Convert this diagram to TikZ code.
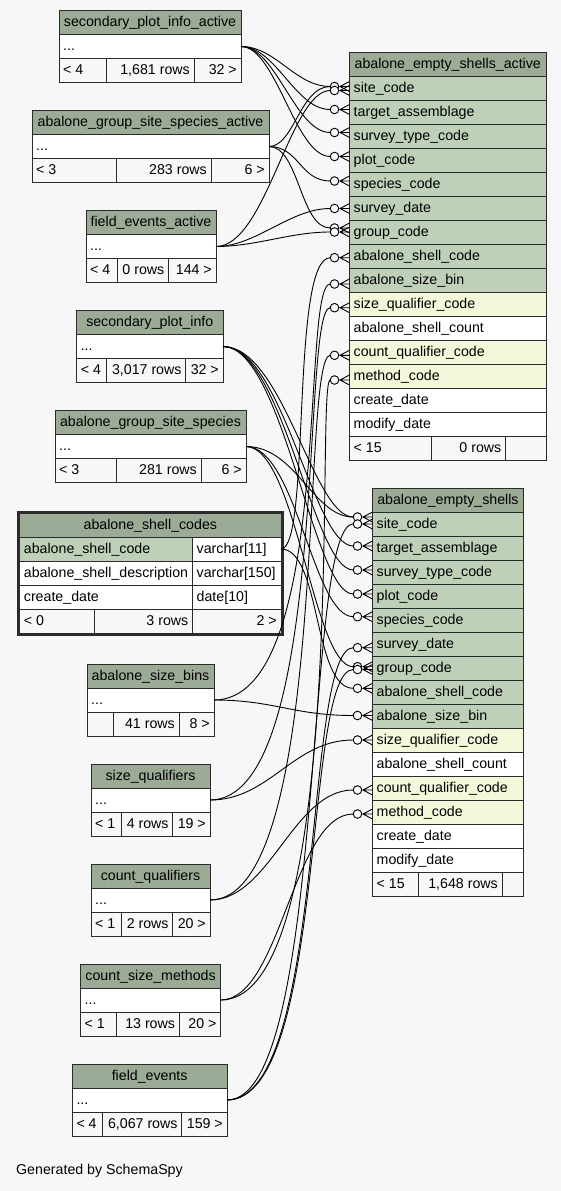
\documentclass[tikz,border=0pt]{standalone}
\usepackage{fontspec}
\setmainfont{Liberation Sans}
\definecolor{bg}{HTML}{F7F7F7}
\definecolor{hdr}{HTML}{9BAB96}
\definecolor{pk}{HTML}{BED1B8}
\definecolor{fkc}{HTML}{F4F7DA}
\definecolor{bd}{HTML}{2B2B2B}
\newcommand{\tf}{\fontsize{14.2}{17}\selectfont}
\newcommand{\tcL}[7]{\node[cell,fill=#6,minimum width={#4-#2},minimum height={#5-#3},anchor=north west] (#1) at (#2,#3) {};
  \node[txt,anchor=west] (#1-t) at ([xshift=4pt]#1.west) {#7};}
\newcommand{\tcC}[7]{\node[cell,fill=#6,minimum width={#4-#2},minimum height={#5-#3},anchor=north west] (#1) at (#2,#3) {};
  \node[txt] (#1-t) at (#1.center) {#7};}
\newcommand{\tcR}[7]{\node[cell,fill=#6,minimum width={#4-#2},minimum height={#5-#3},anchor=north west] (#1) at (#2,#3) {};
  \node[txt,anchor=east] (#1-t) at ([xshift=-4pt]#1.east) {#7};}
\newcommand{\mk}[3]{\coordinate (#1) at (#2-19.3,#3);}
\newcommand{\mkdraw}[1]{\draw[edge,fill=bg] ([xshift=4.3pt]#1) circle[radius=4.3pt];
  \draw[edge] ([xshift=19.3pt,yshift=5pt]#1) -- ([xshift=9.8pt]#1) -- ([xshift=19.3pt,yshift=-5pt]#1)
   ([xshift=9.8pt]#1) -- ([xshift=19.3pt]#1);}
\newcommand{\fk}[4]{\draw[edge] (#1) .. controls +(#3,0) and +(-#4,0) .. (#2);}
\begin{document}
\begin{tikzpicture}[x=1pt,y=-1pt,
  cell/.style={draw=bd,line width=0.9pt,inner sep=0pt,outer sep=0pt},
  txt/.style={inner sep=0pt,text height=11pt,text depth=3pt,font=\tf},
  edge/.style={draw=black,line width=0.9pt}]
\fill[bg] (0,0) rectangle (561,1191);
\useasboundingbox (0,0) rectangle (561,1191);

% secondary_plot_info_active
\tcC{spia}{59}{10.5}{241}{34.5}{hdr}{secondary\_plot\_info\_active}
\tcL{spia-b}{59}{34.5}{241}{58.5}{white}{...}
\tcL{spia-f1}{59}{58.5}{106}{82.5}{bg}{< 4}
\tcR{spia-f2}{106}{58.5}{194}{82.5}{bg}{1,681 rows}
\tcR{spia-f3}{194}{58.5}{241}{82.5}{bg}{32 >}

% abalone_group_site_species_active
\tcC{gssa}{32}{110.5}{269}{134.5}{hdr}{abalone\_group\_site\_species\_active}
\tcL{gssa-b}{32}{134.5}{269}{158.5}{white}{...}
\tcL{gssa-f1}{32}{158.5}{116}{182.5}{bg}{< 3}
\tcR{gssa-f2}{116}{158.5}{211}{182.5}{bg}{283 rows}
\tcR{gssa-f3}{211}{158.5}{269}{182.5}{bg}{6 >}

% field_events_active
\tcC{fea}{86}{210.5}{216}{234.5}{hdr}{field\_events\_active}
\tcL{fea-b}{86}{234.5}{216}{258.5}{white}{...}
\tcL{fea-f1}{86}{258.5}{117}{282.5}{bg}{< 4}
\tcR{fea-f2}{117}{258.5}{168.5}{282.5}{bg}{0 rows}
\tcR{fea-f3}{168.5}{258.5}{216}{282.5}{bg}{144 >}

% secondary_plot_info
\tcC{spi}{76.6}{310.5}{223}{334.5}{hdr}{secondary\_plot\_info}
\tcL{spi-b}{76.6}{334.5}{223}{358.5}{white}{...}
\tcL{spi-f1}{76.6}{358.5}{106}{382.5}{bg}{< 4}
\tcR{spi-f2}{106}{358.5}{185.7}{382.5}{bg}{3,017 rows}
\tcR{spi-f3}{185.7}{358.5}{223}{382.5}{bg}{32 >}

% abalone_group_site_species
\tcC{gss}{55}{410.5}{246}{434.5}{hdr}{abalone\_group\_site\_species}
\tcL{gss-b}{55}{434.5}{246}{458.5}{white}{...}
\tcL{gss-f1}{55}{458.5}{116.3}{482.5}{bg}{< 3}
\tcR{gss-f2}{116.3}{458.5}{201}{482.5}{bg}{281 rows}
\tcR{gss-f3}{201}{458.5}{246}{482.5}{bg}{6 >}

% abalone_shell_codes
\tcC{asc}{19.7}{513.7}{281}{537}{hdr}{abalone\_shell\_codes}
\tcL{asc-r1}{19.7}{537}{192.5}{561}{pk}{abalone\_shell\_code}
\tcL{asc-r1b}{192.5}{537}{281}{561}{white}{varchar[11]}
\tcL{asc-r2}{19.7}{561}{192.5}{585}{white}{abalone\_shell\_description}
\tcL{asc-r2b}{192.5}{561}{281}{585}{white}{varchar[150]}
\tcL{asc-r3}{19.7}{585}{192.5}{609}{white}{create\_date}
\tcL{asc-r3b}{192.5}{585}{281}{609}{white}{date[10]}
\tcL{asc-f1}{19.7}{609}{94}{633}{bg}{< 0}
\tcR{asc-f2}{94}{609}{192.5}{633}{bg}{3 rows}
\tcR{asc-f3}{192.5}{609}{281}{633}{bg}{2 >}
\draw[bd,line width=2.6pt] (18.3,512.3) rectangle (282.2,634.2);

% abalone_size_bins
\tcC{asb}{87}{664}{214}{688}{hdr}{abalone\_size\_bins}
\tcL{asb-b}{87}{688}{214}{712}{white}{...}
\tcL{asb-f1}{87}{712}{113.8}{736}{bg}{}
\tcR{asb-f2}{113.8}{712}{179}{736}{bg}{41 rows}
\tcR{asb-f3}{179}{712}{214}{736}{bg}{8 >}

% size_qualifiers
\tcC{sq}{91}{764}{210}{788}{hdr}{size\_qualifiers}
\tcL{sq-b}{91}{788}{210}{812}{white}{...}
\tcL{sq-f1}{91}{812}{121}{836}{bg}{< 1}
\tcR{sq-f2}{121}{812}{172.8}{836}{bg}{4 rows}
\tcR{sq-f3}{172.8}{812}{210}{836}{bg}{19 >}

% count_qualifiers
\tcC{cq}{91}{864}{210}{888}{hdr}{count\_qualifiers}
\tcL{cq-b}{91}{888}{210}{912}{white}{...}
\tcL{cq-f1}{91}{912}{121}{936}{bg}{< 1}
\tcR{cq-f2}{121}{912}{172.8}{936}{bg}{2 rows}
\tcR{cq-f3}{172.8}{912}{210}{936}{bg}{20 >}

% count_size_methods
\tcC{csm}{80.5}{964}{220.7}{988}{hdr}{count\_size\_methods}
\tcL{csm-b}{80.5}{988}{220.7}{1012}{white}{...}
\tcL{csm-f1}{80.5}{1012}{116.6}{1036}{bg}{< 1}
\tcR{csm-f2}{116.6}{1012}{179.2}{1036}{bg}{13 rows}
\tcR{csm-f3}{179.2}{1012}{220.7}{1036}{bg}{20 >}

% field_events
\tcC{fe}{72.3}{1064}{227}{1088}{hdr}{field\_events}
\tcL{fe-b}{72.3}{1088}{227}{1112}{white}{...}
\tcL{fe-f1}{72.3}{1112}{102}{1136}{bg}{< 4}
\tcR{fe-f2}{102}{1112}{181.7}{1136}{bg}{6,067 rows}
\tcR{fe-f3}{181.7}{1112}{227}{1136}{bg}{159 >}

% abalone_empty_shells_active
\tcC{esa}{349.5}{52}{546}{76}{hdr}{abalone\_empty\_shells\_active}
\tcL{esa-site}{349.5}{76}{546}{100}{pk}{site\_code}
\tcL{esa-targ}{349.5}{100}{546}{124}{pk}{target\_assemblage}
\tcL{esa-stype}{349.5}{124}{546}{148}{pk}{survey\_type\_code}
\tcL{esa-plot}{349.5}{148}{546}{172}{pk}{plot\_code}
\tcL{esa-spec}{349.5}{172}{546}{196}{pk}{species\_code}
\tcL{esa-sdate}{349.5}{196}{546}{220}{pk}{survey\_date}
\tcL{esa-group}{349.5}{220}{546}{244}{pk}{group\_code}
\tcL{esa-shell}{349.5}{244}{546}{268}{pk}{abalone\_shell\_code}
\tcL{esa-bin}{349.5}{268}{546}{292}{pk}{abalone\_size\_bin}
\tcL{esa-sq}{349.5}{292}{546}{316}{fkc}{size\_qualifier\_code}
\tcL{esa-cnt}{349.5}{316}{546}{340}{white}{abalone\_shell\_count}
\tcL{esa-cq}{349.5}{340}{546}{364}{fkc}{count\_qualifier\_code}
\tcL{esa-meth}{349.5}{364}{546}{388}{fkc}{method\_code}
\tcL{esa-cd}{349.5}{388}{546}{412}{white}{create\_date}
\tcL{esa-md}{349.5}{412}{546}{436}{white}{modify\_date}
\tcL{esa-f1}{349.5}{436}{431}{460}{bg}{< 15}
\tcR{esa-f2}{431}{436}{505.5}{460}{bg}{0 rows}
\tcR{esa-f3}{505.5}{436}{546}{460}{bg}{}

% abalone_empty_shells
\tcC{es}{372.5}{488}{523.4}{512}{hdr}{abalone\_empty\_shells}
\tcL{es-site}{372.5}{512}{523.4}{536}{pk}{site\_code}
\tcL{es-targ}{372.5}{536}{523.4}{560}{pk}{target\_assemblage}
\tcL{es-stype}{372.5}{560}{523.4}{584}{pk}{survey\_type\_code}
\tcL{es-plot}{372.5}{584}{523.4}{608}{pk}{plot\_code}
\tcL{es-spec}{372.5}{608}{523.4}{632}{pk}{species\_code}
\tcL{es-sdate}{372.5}{632}{523.4}{656}{pk}{survey\_date}
\tcL{es-group}{372.5}{656}{523.4}{680}{pk}{group\_code}
\tcL{es-shell}{372.5}{680}{523.4}{704}{pk}{abalone\_shell\_code}
\tcL{es-bin}{372.5}{704}{523.4}{728}{pk}{abalone\_size\_bin}
\tcL{es-sq}{372.5}{728}{523.4}{752}{fkc}{size\_qualifier\_code}
\tcL{es-cnt}{372.5}{752}{523.4}{776}{white}{abalone\_shell\_count}
\tcL{es-cq}{372.5}{776}{523.4}{800}{fkc}{count\_qualifier\_code}
\tcL{es-meth}{372.5}{800}{523.4}{824}{fkc}{method\_code}
\tcL{es-cd}{372.5}{824}{523.4}{848}{white}{create\_date}
\tcL{es-md}{372.5}{848}{523.4}{872}{white}{modify\_date}
\tcL{es-f1}{372.5}{872}{418}{896}{bg}{< 15}
\tcR{es-f2}{418}{872}{502}{896}{bg}{1,648 rows}
\tcR{es-f3}{502}{872}{523.4}{896}{bg}{}

\node[txt,anchor=west] (gen) at (16,1170) {Generated by SchemaSpy};

% marker coordinates
\mk{a-site1}{349.5}{86.5}
\mk{a-site2}{349.5}{90.5}
\mk{a-targ}{349.5}{109.5}
\mk{a-stype}{349.5}{132.5}
\mk{a-plot}{349.5}{156.5}
\mk{a-spec}{349.5}{181}
\mk{a-sdate}{349.5}{208.5}
\mk{a-group1}{349.5}{228}
\mk{a-group2}{349.5}{232}
\mk{a-shell}{349.5}{257.7}
\mk{a-bin}{349.5}{284}
\mk{a-sq}{349.5}{307.7}
\mk{a-cq}{349.5}{355.3}
\mk{a-meth}{349.5}{380}
\mk{b-site1}{372.5}{517}
\mk{b-site2}{372.5}{524}
\mk{b-targ}{372.5}{546}
\mk{b-stype}{372.5}{570}
\mk{b-plot}{372.5}{594}
\mk{b-spec}{372.5}{616.7}
\mk{b-sdate}{372.5}{647.7}
\mk{b-group1}{372.5}{666.7}
\mk{b-group2}{372.5}{669.5}
\mk{b-shell}{372.5}{688.3}
\mk{b-bin}{372.5}{715.5}
\mk{b-sq}{372.5}{740}
\mk{b-cq}{372.5}{790}
\mk{b-meth}{372.5}{814}

% edges to abalone_empty_shells_active
\fk{spia-b.east}{a-site1}{35}{35}
\fk{spia-b.east}{a-targ}{35}{35}
\fk{spia-b.east}{a-stype}{35}{35}
\fk{spia-b.east}{a-plot}{35}{35}
\fk{gssa-b.east}{a-site1}{25}{30}
\fk{gssa-b.east}{a-spec}{30}{30}
\fk{gssa-b.east}{a-group1}{30}{30}
\fk{fea-b.east}{a-site2}{50}{40}
\fk{fea-b.east}{a-sdate}{40}{40}
\fk{fea-b.east}{a-group2}{40}{40}
\fk{asc-r1b.east}{a-shell}{30}{40}
\fk{asb-b.east}{a-bin}{120}{30}
\fk{sq-b.east}{a-sq}{120}{30}
\fk{cq-b.east}{a-cq}{120}{30}
\fk{csm-b.east}{a-meth}{130}{15}

% edges to abalone_empty_shells
\fk{spi-b.east}{b-site1}{60}{40}
\fk{spi-b.east}{b-targ}{60}{40}
\fk{spi-b.east}{b-stype}{60}{40}
\fk{spi-b.east}{b-plot}{60}{40}
\fk{gss-b.east}{b-site1}{50}{40}
\fk{gss-b.east}{b-spec}{50}{40}
\fk{gss-b.east}{b-group1}{50}{40}
\fk{fe-b.east}{b-site2}{100}{50}
\fk{fe-b.east}{b-sdate}{100}{50}
\fk{fe-b.east}{b-group2}{100}{50}
\fk{asc-r1b.east}{b-shell}{40}{40}
\fk{asb-b.east}{b-bin}{60}{60}
\fk{sq-b.east}{b-sq}{60}{60}
\fk{cq-b.east}{b-cq}{60}{60}
\fk{csm-b.east}{b-meth}{60}{60}

% markers
\foreach \m in {a-site1,a-site2,a-targ,a-stype,a-plot,a-spec,a-sdate,a-group1,a-group2,a-shell,a-bin,a-sq,a-cq,a-meth,
  b-site1,b-site2,b-targ,b-stype,b-plot,b-spec,b-sdate,b-group1,b-group2,b-shell,b-bin,b-sq,b-cq,b-meth}{\mkdraw{\m}}
\end{tikzpicture}
\end{document}
